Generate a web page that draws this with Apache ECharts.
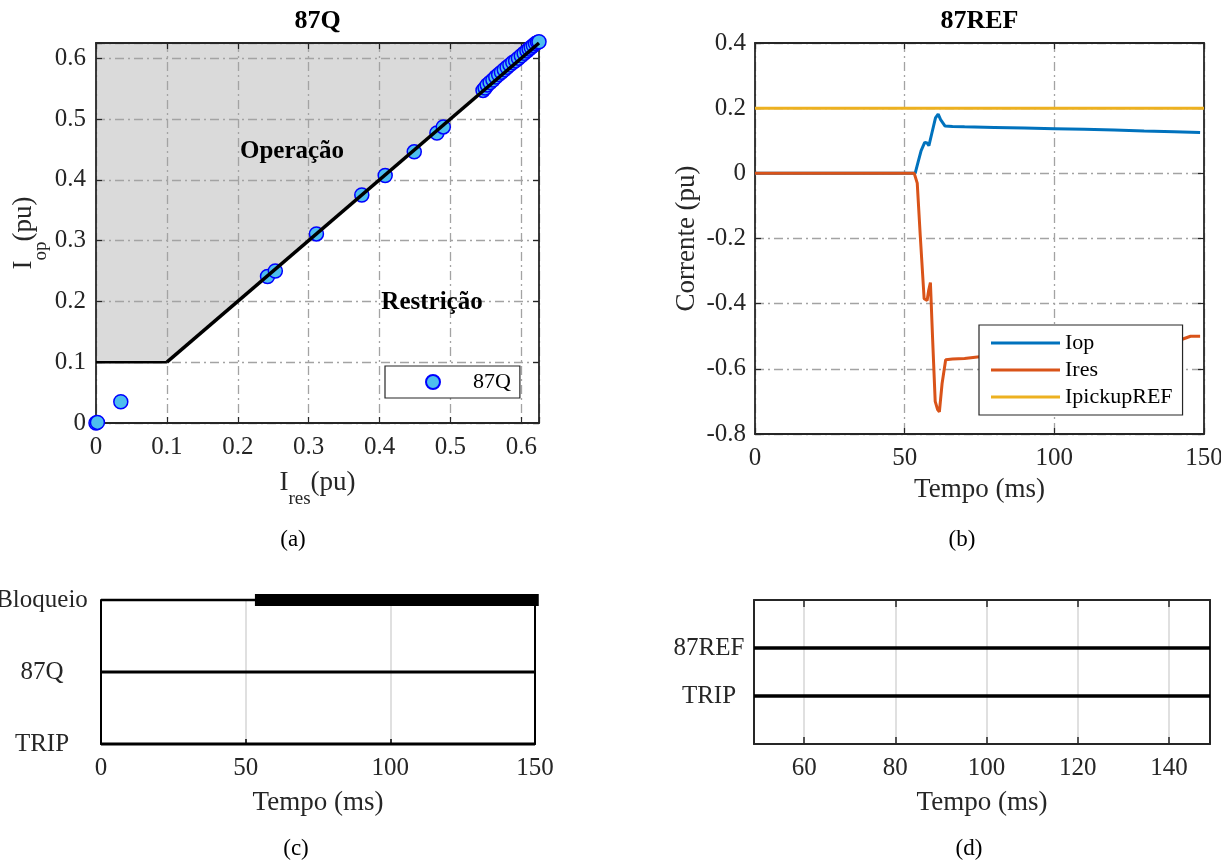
<!DOCTYPE html>
<html>
<head>
<meta charset="utf-8">
<script src="https://cdn.jsdelivr.net/npm/echarts@6/dist/echarts.min.js"></script>
<style>
  html, body { margin: 0; padding: 0; background: #ffffff; }
  #chart { width: 1221px; height: 861px; }
</style>
</head>
<body>
<div id="chart"></div>
<script>
// ---- (a) 87Q: operating points in the Ires x Iop plane (pu) ----
const opIres = [0, 0.002, 0.035, 0.242, 0.253, 0.311, 0.375, 0.408, 0.449, 0.481,
                0.490, 0.546, 0.549, 0.552, 0.556, 0.560, 0.564, 0.568, 0.572, 0.576,
                0.580, 0.584, 0.588, 0.592, 0.596, 0.600, 0.604, 0.608, 0.611, 0.614,
                0.617, 0.620, 0.623, 0.625];
const opIop  = [0, 0.001, 0.035, 0.241, 0.250, 0.311, 0.375, 0.407, 0.446, 0.477,
                0.487, 0.547, 0.551, 0.556, 0.560, 0.564, 0.569, 0.573, 0.577, 0.581,
                0.585, 0.589, 0.593, 0.596, 0.600, 0.604, 0.608, 0.612, 0.615, 0.618,
                0.621, 0.624, 0.626, 0.627];
// characteristic: pickup segment and slope segment
const pickupIres = [0, 0.1];
const pickupIop  = [0.1, 0.1];
const slopeIres  = [0.1, 0.625];
const slopeIop   = [0.1, 0.625];
// operation region (shaded)
const regionIres = [0, 0.1, 0.625, 0];
const regionIop  = [0.1, 0.1, 0.625, 0.625];

// ---- (b) 87REF: currents over time ----
const iopTime  = [0, 53.5, 54.5, 55.5, 56.7, 57.5, 58.1, 59.0, 60.3, 61.2, 62.0, 63.5, 66, 70, 80, 90, 100, 110, 120, 130, 140, 148.7];
const iopValue = [0, 0, 0.035, 0.07, 0.095, 0.093, 0.085, 0.12, 0.17, 0.182, 0.165, 0.145, 0.144, 0.143, 0.141, 0.139, 0.137, 0.135, 0.133, 0.130, 0.128, 0.125];
const iresTime  = [0, 53.2, 54.2, 55.2, 56.5, 57.5, 58.0, 58.6, 59.3, 60.2, 61.0, 61.6, 62.5, 63.7, 66, 70, 75, 80, 90, 100, 110, 120, 130, 140, 142.5, 145.5, 148.7];
const iresValue = [0, 0, -0.03, -0.19, -0.385, -0.39, -0.36, -0.335, -0.50, -0.70, -0.725, -0.732, -0.645, -0.572, -0.57, -0.568, -0.563, -0.558, -0.548, -0.54, -0.533, -0.527, -0.52, -0.515, -0.51, -0.50, -0.50];
const pickupTime  = [0, 150];
const pickupValue = [0.2, 0.2];

// ---- (c) 87Q digital signals ----
const cSignalNames = ['TRIP', '87Q', 'Bloqueio'];
const cTime = [0, 150];
const cTripLevel = [0, 0];
const c87QLevel = [1, 1];
const cBloqueioLevel = [2, 2];
const cBloqueioActiveTime = [53.2, 151.3];
const cBloqueioActiveLevel = [2, 2];

// ---- (d) 87REF digital signals ----
const dSignalNames = ['', 'TRIP', '87REF', ''];
const dTime = [49, 149];
const dTripLevel = [1, 1];
const d87REFLevel = [2, 2];
const dTicks = [60, 80, 100, 120, 140];

const F = "'Liberation Serif', 'Times New Roman', serif";
const INK = '#262626';
const zip = (xs, ys) => xs.map((x, i) => [x, ys[i]]);

const dashDot = { color: '#a3a3a3', width: 1.3, type: [9, 4, 2, 4] };
const softGrid = { color: '#d6d6d6', width: 1.5, type: 'solid' };
const decimalLabel = v => {
  if (Math.abs(v) < 1e-9) return '0';
  const t = v * 10;
  return Math.abs(t - Math.round(t)) < 1e-6 ? v.toFixed(1) : '';
};
const tickFont = { fontFamily: F, fontSize: 25, color: INK };
const nameFont = { fontFamily: F, fontSize: 27, color: INK };
const subRich = {
  m: { fontFamily: F, fontSize: 27, color: INK, lineHeight: 27, verticalAlign: 'top' },
  s: { fontFamily: F, fontSize: 19, color: INK, lineHeight: 19, verticalAlign: 'top', padding: [21, 0, 0, 0] }
};
const boxLine = { show: true, onZero: false, lineStyle: { color: INK, width: 1.8 } };
const inTick = { show: true, inside: true, length: 6, lineStyle: { color: INK, width: 1.2 } };

// mirror axis: line and inner ticks only
function mirror(base, position) {
  return Object.assign({}, base, {
    position: position,
    name: '',
    axisLabel: { show: false },
    splitLine: { show: false }
  });
}

const axA_x = {
  gridIndex: 0, type: 'value', min: 0, max: 0.625, interval: 0.1,
  axisLine: boxLine, axisTick: inTick,
  axisLabel: Object.assign({ formatter: decimalLabel, margin: 12 }, tickFont),
  splitLine: { show: true, lineStyle: dashDot },
  name: '{m|I}{s|res}{m|(pu)}', nameLocation: 'middle', nameGap: 46,
  nameTextStyle: Object.assign({ rich: subRich }, nameFont)
};
const axA_y = {
  gridIndex: 0, type: 'value', min: 0, max: 0.625, interval: 0.1,
  axisLine: boxLine, axisTick: inTick,
  axisLabel: Object.assign({ formatter: decimalLabel, margin: 10 }, tickFont),
  splitLine: { show: true, lineStyle: dashDot },
  name: '{m|I}{s|op}{m|(pu)}', nameLocation: 'middle', nameGap: 46, nameRotate: 90,
  nameTextStyle: Object.assign({ rich: subRich }, nameFont)
};
const axB_x = {
  gridIndex: 1, type: 'value', min: 0, max: 150, interval: 50,
  axisLine: boxLine, axisTick: inTick,
  axisLabel: Object.assign({ margin: 12 }, tickFont),
  splitLine: { show: true, lineStyle: dashDot },
  name: 'Tempo (ms)', nameLocation: 'middle', nameGap: 42, nameTextStyle: nameFont
};
const axB_y = {
  gridIndex: 1, type: 'value', min: -0.8, max: 0.4, interval: 0.2,
  axisLine: boxLine, axisTick: inTick,
  axisLabel: Object.assign({ formatter: decimalLabel, margin: 9 }, tickFont),
  splitLine: { show: true, lineStyle: dashDot },
  name: 'Corrente (pu)', nameLocation: 'middle', nameGap: 55, nameRotate: 90, nameTextStyle: nameFont
};
const axC_x = {
  gridIndex: 2, type: 'value', min: 0, max: 150, interval: 50,
  axisLine: { show: true, onZero: false, lineStyle: { color: '#000', width: 2 } },
  axisTick: { show: true, inside: true, length: 5, lineStyle: { color: '#000', width: 1.5 } },
  axisLabel: Object.assign({ margin: 12 }, tickFont),
  splitLine: { show: true, lineStyle: softGrid },
  name: 'Tempo (ms)', nameLocation: 'middle', nameGap: 45, nameTextStyle: nameFont
};
const axC_y = {
  gridIndex: 2, type: 'value', min: 0, max: 2, interval: 1,
  axisLine: { show: true, onZero: false, lineStyle: { color: '#000', width: 2 } },
  axisTick: { show: false },
  axisLabel: Object.assign({ formatter: v => cSignalNames[v] || '', align: 'center', margin: 59 }, tickFont),
  splitLine: { show: false }
};
const axD_x = {
  gridIndex: 3, type: 'value', min: 49, max: 149,
  axisLine: { show: true, onZero: false, lineStyle: { color: INK, width: 2 } },
  axisTick: { show: true, inside: true, length: 7, customValues: dTicks, lineStyle: { color: INK, width: 1.5 } },
  axisLabel: Object.assign({ margin: 12, customValues: dTicks }, tickFont),
  splitLine: { show: true, lineStyle: softGrid },
  name: 'Tempo (ms)', nameLocation: 'middle', nameGap: 45, nameTextStyle: nameFont
};
const axD_y = {
  gridIndex: 3, type: 'value', min: 0, max: 3, interval: 1,
  axisLine: { show: true, onZero: false, lineStyle: { color: INK, width: 2 } },
  axisTick: { show: false },
  axisLabel: Object.assign({ formatter: v => dSignalNames[v] || '', align: 'center', margin: 45 }, tickFont),
  splitLine: { show: false }
};

const option = {
  animation: false,
  backgroundColor: '#ffffff',
  grid: [
    { left: 96, top: 43, width: 443, height: 380, outerBoundsMode: 'none' },
    { left: 755, top: 43, width: 449, height: 391, outerBoundsMode: 'none' },
    { left: 101, top: 600, width: 434, height: 144, outerBoundsMode: 'none' },
    { left: 754, top: 600, width: 456, height: 144, outerBoundsMode: 'none' }
  ],
  xAxis: [
    axA_x, mirror(axA_x, 'top'),
    axB_x, mirror(axB_x, 'top'),
    axC_x,
    axD_x, mirror(axD_x, 'top')
  ],
  yAxis: [
    axA_y, mirror(axA_y, 'right'),
    axB_y, mirror(axB_y, 'right'),
    axC_y, Object.assign(mirror(axC_y, 'right'), { axisTick: { show: false } }),
    axD_y, mirror(axD_y, 'right')
  ],
  legend: [
    {
      data: [{ name: '87Q', icon: 'circle' }],
      left: 385, top: 366, orient: 'horizontal',
      itemWidth: 14, itemHeight: 14,
      padding: [5, 9, 5, 40],
      backgroundColor: '#ffffff', borderColor: INK, borderWidth: 1.2,
      textStyle: { fontFamily: F, fontSize: 22, color: '#000', padding: [0, 0, 0, 28] }
    },
    {
      data: ['Iop', 'Ires', 'IpickupREF'].map(n => ({ name: n, icon: 'rect' })),
      left: 979, top: 325, orient: 'vertical',
      itemWidth: 69, itemHeight: 3, itemGap: 3,
      padding: [6, 10, 6, 12],
      backgroundColor: '#ffffff', borderColor: INK, borderWidth: 1.2,
      textStyle: { fontFamily: F, fontSize: 22, color: '#000', lineHeight: 24 }
    }
  ],
  graphic: [
    { type: 'text', x: 317.5, y: 21, style: { text: '87Q', font: "bold 26px 'Liberation Serif', serif", fill: '#000', align: 'center', verticalAlign: 'middle' } },
    { type: 'text', x: 979.5, y: 21, style: { text: '87REF', font: "bold 26px 'Liberation Serif', serif", fill: '#000', align: 'center', verticalAlign: 'middle' } },
    { type: 'text', x: 292, y: 152, z: 10, style: { text: 'Operação', font: "bold 25px 'Liberation Serif', serif", fill: '#000', align: 'center', verticalAlign: 'middle' } },
    { type: 'text', x: 432, y: 303, z: 10, style: { text: 'Restrição', font: "bold 25px 'Liberation Serif', serif", fill: '#000', align: 'center', verticalAlign: 'middle' } },
    { type: 'text', x: 293, y: 540, style: { text: '(a)', font: "23px 'Liberation Serif', serif", fill: '#000', align: 'center', verticalAlign: 'middle' } },
    { type: 'text', x: 962, y: 540, style: { text: '(b)', font: "23px 'Liberation Serif', serif", fill: '#000', align: 'center', verticalAlign: 'middle' } },
    { type: 'text', x: 296, y: 849, style: { text: '(c)', font: "23px 'Liberation Serif', serif", fill: '#000', align: 'center', verticalAlign: 'middle' } },
    { type: 'text', x: 969, y: 849, style: { text: '(d)', font: "23px 'Liberation Serif', serif", fill: '#000', align: 'center', verticalAlign: 'middle' } }
  ],
  series: [
    // (a) operation region
    {
      type: 'custom', name: 'regiao', xAxisIndex: 0, yAxisIndex: 0, z: -1,
      data: [0],
      renderItem: (params, api) => ({
        type: 'polygon',
        shape: { points: regionIres.map((x, i) => api.coord([x, regionIop[i]])) },
        style: { fill: '#dadada' }
      })
    },
    {
      type: 'scatter', name: '87Q', xAxisIndex: 0, yAxisIndex: 0, z: 3, clip: false,
      symbol: 'circle', symbolSize: 14,
      itemStyle: { color: '#4DBEEE', borderColor: '#0000ff', borderWidth: 1.5, opacity: 1 },
      data: zip(opIres, opIop)
    },
    {
      type: 'line', name: 'pickup87Q', xAxisIndex: 0, yAxisIndex: 0, z: 4, symbol: 'none',
      lineStyle: { color: '#000', width: 2.5 },
      data: zip(pickupIres, pickupIop)
    },
    {
      type: 'line', name: 'slope87Q', xAxisIndex: 0, yAxisIndex: 0, z: 4, symbol: 'none',
      lineStyle: { color: '#000', width: 3.5 },
      data: zip(slopeIres, slopeIop)
    },
    // (b) currents
    {
      type: 'line', name: 'Iop', xAxisIndex: 2, yAxisIndex: 2, symbol: 'none',
      color: '#0072BD', lineStyle: { color: '#0072BD', width: 3 },
      data: zip(iopTime, iopValue)
    },
    {
      type: 'line', name: 'Ires', xAxisIndex: 2, yAxisIndex: 2, symbol: 'none',
      color: '#D95319', lineStyle: { color: '#D95319', width: 3 },
      data: zip(iresTime, iresValue)
    },
    {
      type: 'line', name: 'IpickupREF', xAxisIndex: 2, yAxisIndex: 2, symbol: 'none',
      color: '#EDB120', lineStyle: { color: '#EDB120', width: 3 },
      data: zip(pickupTime, pickupValue)
    },
    // (c) signals
    {
      type: 'line', name: 'sinalTRIP87Q', xAxisIndex: 4, yAxisIndex: 4, symbol: 'none', clip: false,
      lineStyle: { color: '#000', width: 3.2 }, data: zip(cTime, cTripLevel)
    },
    {
      type: 'line', name: 'sinal87Q', xAxisIndex: 4, yAxisIndex: 4, symbol: 'none', clip: false,
      lineStyle: { color: '#000', width: 3 }, data: zip(cTime, c87QLevel)
    },
    {
      type: 'line', name: 'sinalBloqueio', xAxisIndex: 4, yAxisIndex: 4, symbol: 'none', clip: false,
      lineStyle: { color: '#000', width: 2.6 }, data: zip(cTime, cBloqueioLevel)
    },
    {
      type: 'line', name: 'sinalBloqueioAtivo', xAxisIndex: 4, yAxisIndex: 4, symbol: 'none', clip: false,
      lineStyle: { color: '#000', width: 12, cap: 'butt' }, data: zip(cBloqueioActiveTime, cBloqueioActiveLevel)
    },
    // (d) signals
    {
      type: 'line', name: 'sinal87REF', xAxisIndex: 5, yAxisIndex: 6, symbol: 'none', clip: false,
      lineStyle: { color: '#000', width: 3.6 }, data: zip(dTime, d87REFLevel)
    },
    {
      type: 'line', name: 'sinalTRIPREF', xAxisIndex: 5, yAxisIndex: 6, symbol: 'none', clip: false,
      lineStyle: { color: '#000', width: 3.6 }, data: zip(dTime, dTripLevel)
    }
  ]
};

const chart = echarts.init(document.getElementById('chart'), null, { renderer: 'canvas' });
chart.setOption(option);
</script>
</body>
</html>
